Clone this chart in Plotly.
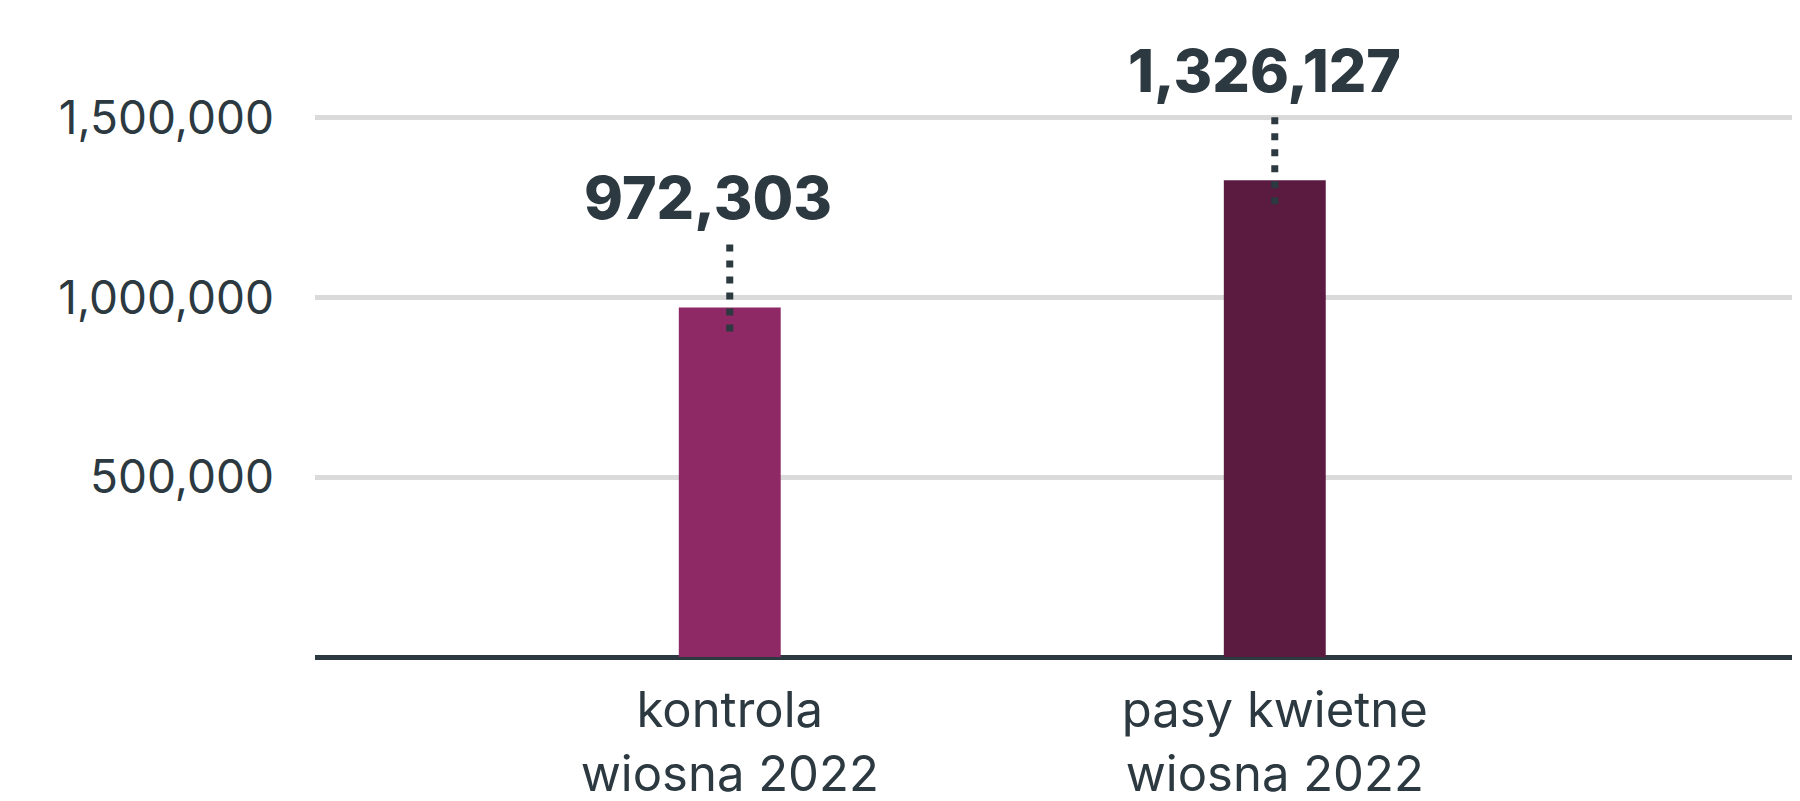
import plotly.graph_objects as go

categories = ["kontrola<br>wiosna 2022", "pasy kwietne<br>wiosna 2022"]
values = [972303, 1326127]
value_labels = ["972,303", "1,326,127"]
bar_colors = ["#8e2966", "#5b1b41"]
label_xshift = [-22, -10]
y_tickvals = [500000, 1000000, 1500000]
y_ticktext = ["500,000", "1,000,000", "1,500,000"]

TEXT = "#2c3940"
FONT = "Inter, Lato, sans-serif"

fig = go.Figure()
fig.add_trace(go.Bar(
    x=categories, y=values, marker=dict(color=bar_colors, line=dict(width=0)),
    width=0.187, hoverinfo="skip", showlegend=False,
))

for cat, val, lab, xs in zip(categories, values, value_labels, label_xshift):
    fig.add_annotation(
        x=cat, y=val, xref="x", yref="y", text=lab, showarrow=False,
        yshift=110, xshift=xs, yanchor="middle", xanchor="center",
        font=dict(family=FONT, size=59, color=TEXT, weight=800),
    )
    fig.add_shape(
        type="line", xref="x", yref="y", x0=cat, x1=cat,
        ysizemode="pixel", yanchor=val, y0=-24, y1=65,
        line=dict(color=TEXT, width=7, dash="7px,9px"), layer="above",
    )

fig.update_layout(
    width=1792, height=793,
    margin=dict(l=307, r=8, t=2, b=144),
    paper_bgcolor="white", plot_bgcolor="white",
    xaxis=dict(
        range=[-0.761, 1.949], showgrid=False, showline=False, zeroline=False,
        automargin=False,
        ticks="outside", ticklen=10, tickcolor="rgba(0,0,0,0)",
        tickfont=dict(family=FONT, size=49, color=TEXT),
    ),
    yaxis=dict(
        range=[0, 1800000], tickvals=y_tickvals, ticktext=y_ticktext,
        automargin=False,
        showgrid=True, gridcolor="#dadada", gridwidth=5,
        zeroline=True, zerolinecolor="#2c3940", zerolinewidth=5,
        showline=False, ticks="", ticklabelstandoff=40,
        tickfont=dict(family=FONT, size=46, color=TEXT),
    ),
    bargap=0.5,
)

fig.write_html("out.html")
